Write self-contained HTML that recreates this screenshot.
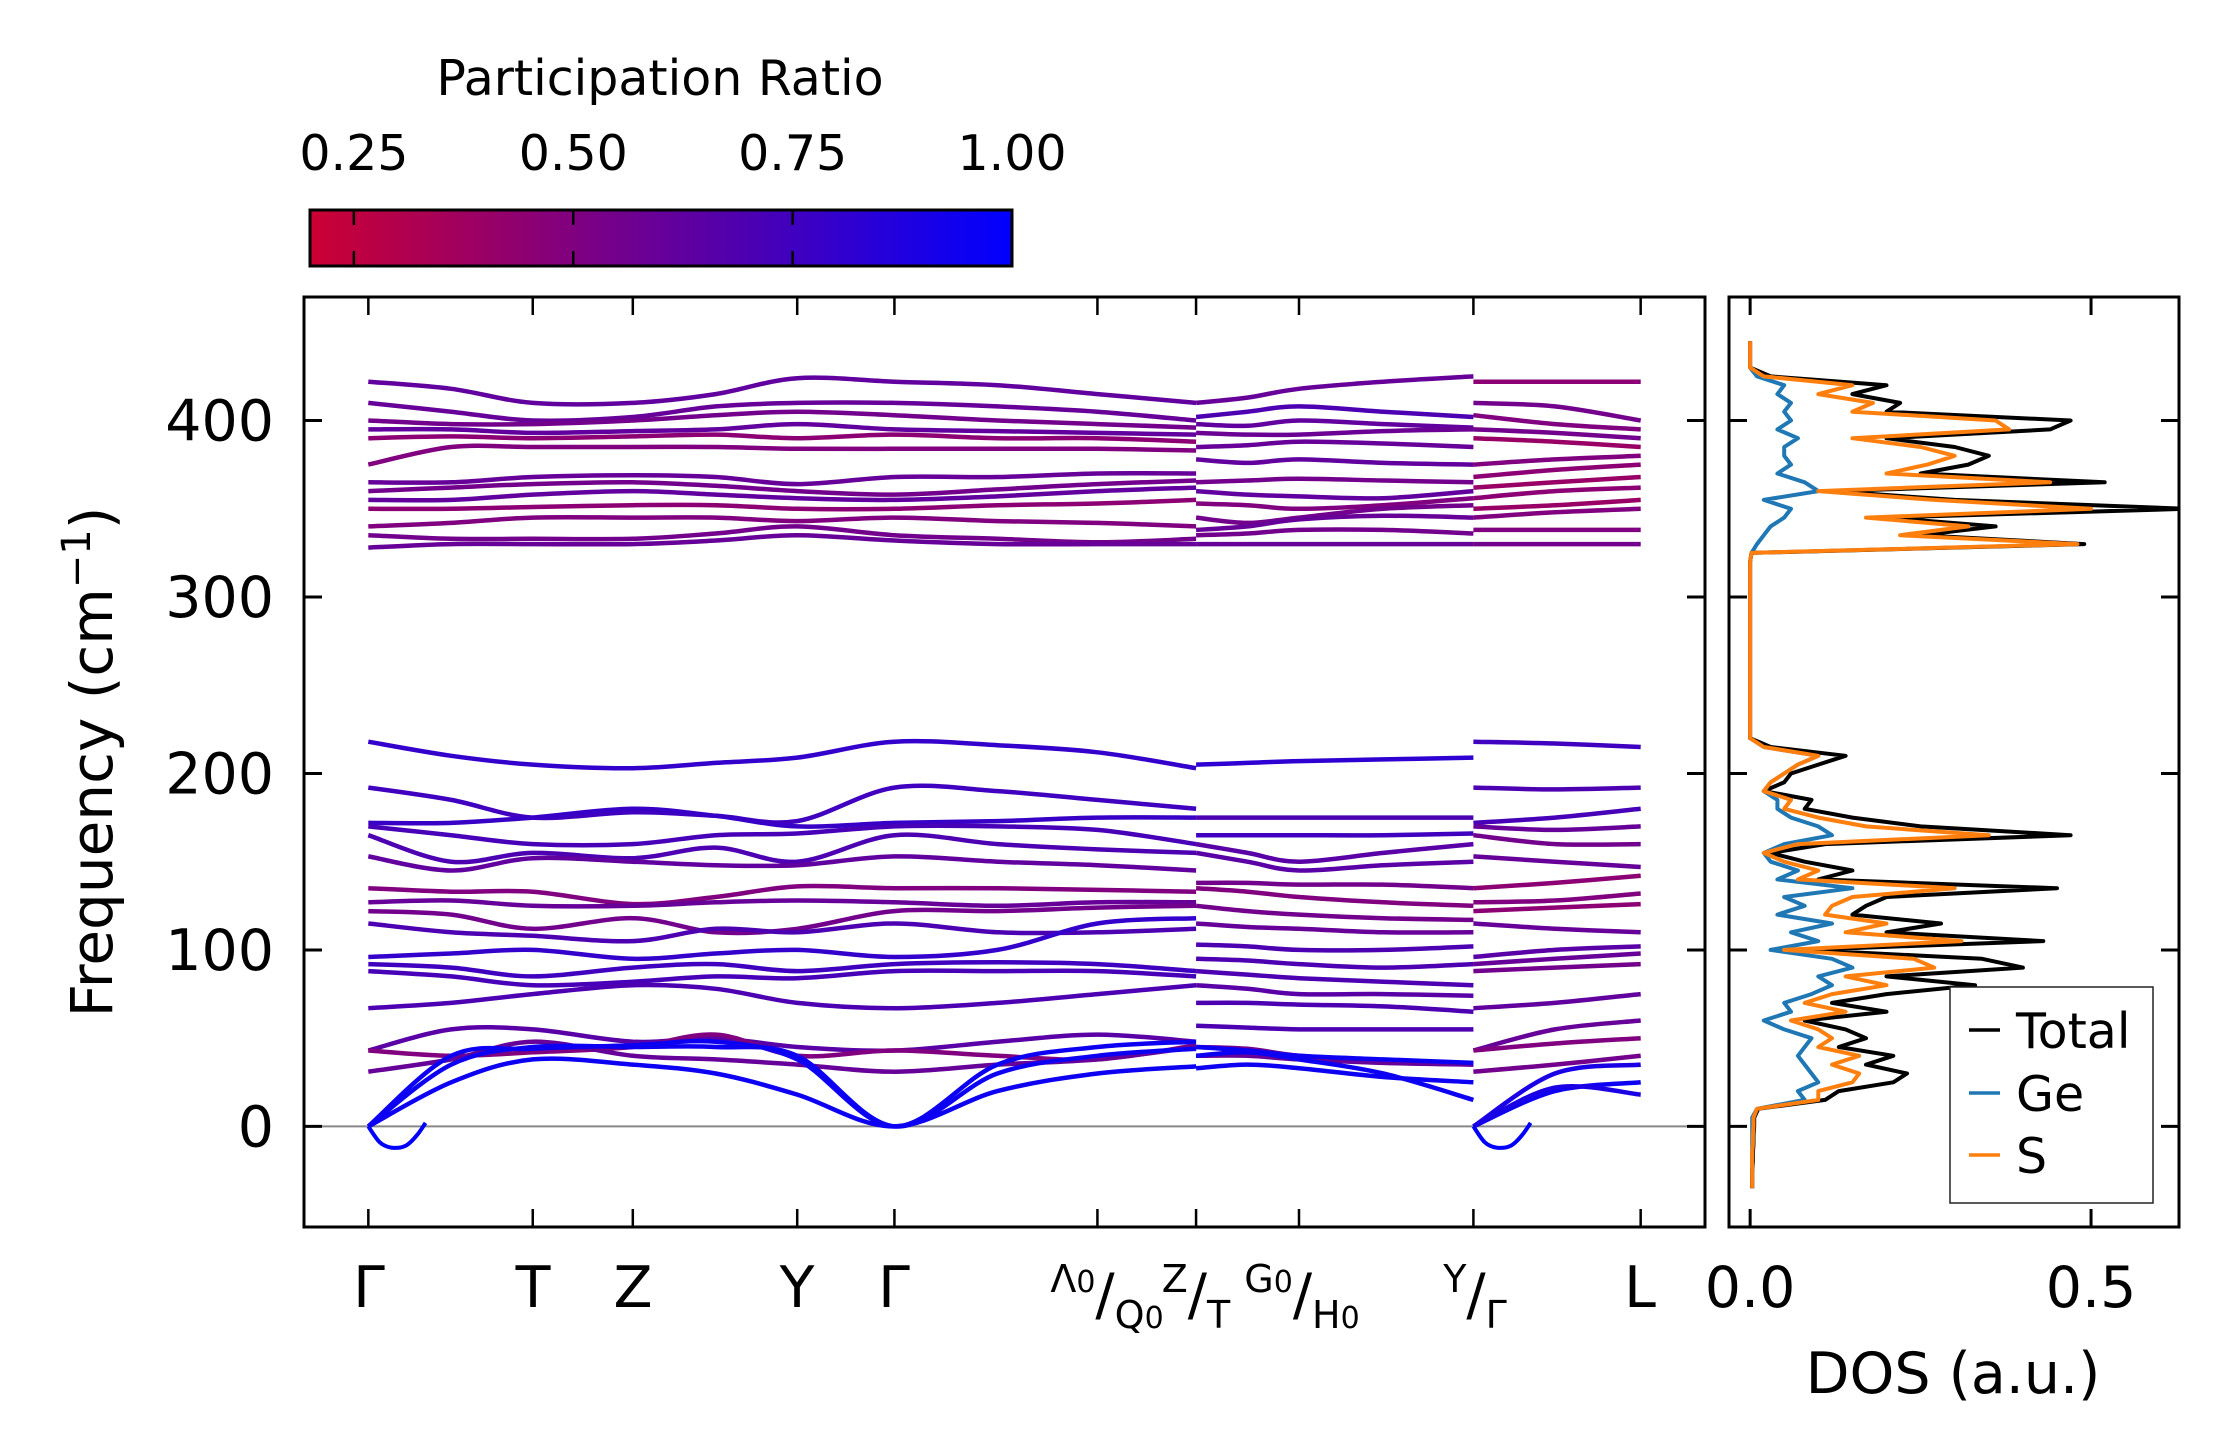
<!DOCTYPE html>
<html><head><meta charset="utf-8"><style>
html,body{margin:0;padding:0;background:#fff;}
svg{display:block;font-family:"DejaVu Sans","Liberation Sans",sans-serif;}
</style></head><body>
<svg id="chart" width="2222" height="1455" viewBox="0 0 2222 1455" xmlns="http://www.w3.org/2000/svg">
<defs>
<linearGradient id="cbgrad" x1="0" x2="1" y1="0" y2="0">
<stop offset="0" stop-color="rgb(204,0,51)"/><stop offset="1" stop-color="rgb(0,0,255)"/>
</linearGradient>
<clipPath id="mainclip"><rect x="304" y="297" width="1401" height="930"/></clipPath>
<clipPath id="dosclip"><rect x="1729" y="297" width="450" height="930"/></clipPath>
</defs>
<g id="colorbar">
<text x="660" y="95" font-size="49" text-anchor="middle">Participation Ratio</text>
<rect x="310" y="210" width="702" height="56" fill="url(#cbgrad)" stroke="#000" stroke-width="3"/>
</g>
<g id="bands" clip-path="url(#mainclip)"></g>
<g id="dos" clip-path="url(#dosclip)"></g>
<g id="axes"></g>
<g id="legend">
<rect x="1950" y="987" width="203" height="216" fill="#fff" stroke="#222" stroke-width="1.5"/>
<line x1="1969" y1="1030" x2="2000" y2="1030" stroke="#000" stroke-width="3.5"/>
<text x="2016" y="1048" font-size="49">Total</text>
<line x1="1969" y1="1093" x2="2000" y2="1093" stroke="#1f77b4" stroke-width="3.5"/>
<text x="2016" y="1111" font-size="49">Ge</text>
<line x1="1969" y1="1155" x2="2000" y2="1155" stroke="#ff7f0e" stroke-width="3.5"/>
<text x="2016" y="1173" font-size="49">S</text>
</g>
</svg>
<script>
// ---- data ----
const kNodes = [0,0.58,1.15,1.85,2.43,3.0,3.68,4.4,5.1,5.79, 5.79,6.15,6.51,7.1,7.73, 7.73,8.3,8.9];
const panelIdx = [[0,10],[10,15],[15,18]];
const kTickPos = [0,1.15,1.85,3.0,3.68,5.1,5.79,6.51,7.73,8.9];
const yTicks = [0,100,200,300,400];
const cbTicks = [0.25,0.5,0.75,1.0];
const cbLabels = ["0.25","0.50","0.75","1.00"];
const bands = [
[422,418,410,410,415,424,422,420,415,410, 410,413,418,422,425, 422,422,422],
[410,405,400,402,408,410,410,408,405,400, 402,405,408,405,402, 410,408,400],
[400,398,398,400,403,405,403,400,398,396, 398,397,400,398,396, 403,398,395],
[395,395,393,394,395,398,395,394,393,392, 393,392,392,394,395, 395,393,390],
[390,391,390,391,392,390,392,390,390,388, 385,386,388,387,385, 390,388,385],
[375,385,385,385,385,384,384,384,384,383, 378,376,378,376,375, 375,378,380],
[365,365,368,369,368,364,368,368,370,370, 365,366,367,366,365, 368,372,375],
[360,362,364,365,363,360,358,361,364,366, 360,358,357,356,360, 362,365,368],
[355,355,358,360,358,356,355,357,360,362, 353,352,350,352,356, 356,360,362],
[350,350,351,352,352,350,350,352,353,355, 345,342,345,350,352, 350,352,355],
[340,342,345,345,345,343,345,343,342,340, 338,340,344,346,345, 345,348,350],
[335,333,333,333,336,340,335,333,331,333, 335,336,338,338,336, 338,338,338],
[328,330,330,330,332,335,332,330,330,330, 330,330,330,330,330, 330,330,330],
[218,210,205,203,206,209,218,216,212,203, 205,206,207,208,209, 218,217,215],
[192,185,175,178,176,173,192,190,185,180, 175,175,175,175,175, 192,191,192],
[172,172,175,180,176,170,172,173,175,175, 165,165,165,165,166, 172,175,180],
[170,165,160,160,165,166,170,170,168,160, 160,155,150,155,160, 170,168,170],
[165,150,155,152,158,150,165,160,157,155, 155,150,145,148,150, 165,160,160],
[153,145,152,150,148,148,153,150,148,145, 138,138,137,137,135, 153,150,147],
[135,133,133,126,130,136,135,135,134,133, 135,133,130,127,125, 135,138,142],
[127,128,125,125,127,128,127,125,127,127, 125,122,120,118,117, 127,128,132],
[122,120,112,118,110,112,122,122,124,125, 115,113,112,110,110, 122,124,126],
[115,110,108,105,112,110,115,110,110,112, 103,102,100,100,102, 115,112,110],
[96,98,100,95,98,100,96,100,115,118, 95,94,92,90,92, 96,100,102],
[92,90,85,90,92,88,92,93,92,88, 88,86,84,82,80, 92,95,98],
[88,85,80,82,85,84,88,88,88,85, 80,78,75,75,74, 88,90,92],
[67,70,75,80,78,70,67,70,75,80, 70,70,69,68,65, 67,70,75],
[43,55,55,48,50,45,43,48,52,48, 57,56,55,55,55, 43,55,60],
[43,40,42,45,52,40,43,40,38,46, 45,44,40,37,35, 43,47,50],
[31,38,48,40,38,35,31,35,38,45, 40,40,38,36,35, 31,35,40],
[0,25,38,35,30,18,0,20,30,34, 40,42,38,30,15, 0,20,25],
[0,35,45,45,45,40,0,30,40,44, 33,35,33,28,25, 0,22,18],
[0,40,44,46,48,38,0,35,45,48, 45,43,40,38,36, 0,30,35]
];
const bandPR = [
[0.62,0.6,0.45],[0.6,0.7,0.55],[0.55,0.62,0.5],[0.62,0.58,0.55],[0.45,0.6,0.4],[0.5,0.62,0.5],[0.6,0.55,0.45],
[0.55,0.62,0.4],[0.62,0.5,0.45],[0.45,0.55,0.4],[0.5,0.6,0.5],[0.55,0.55,0.5],[0.6,0.6,0.55],
[0.8,0.82,0.75],[0.75,0.7,0.7],[0.78,0.75,0.72],[0.72,0.65,0.6],[0.7,0.65,0.55],[0.62,0.55,0.6],
[0.5,0.5,0.45],[0.6,0.55,0.5],[0.55,0.6,0.45],[0.7,0.7,0.6],[0.8,0.7,0.65],[0.75,0.7,0.6],[0.72,0.65,0.55],
[0.7,0.7,0.62],[0.65,0.7,0.6],[0.5,0.55,0.5],[0.6,0.6,0.55],[0.95,0.95,0.95],[0.95,0.95,0.9],[0.95,0.95,0.9]
];
const softK = [0,0.08,0.16,0.26,0.34,0.4];
const softF = [0,-9,-12,-11,-5,2];
const softStarts = [0,7.73];
const dosFreq = [-35,-30,-25,-20,-15,-10,-5,0,5,10,15,20,25,30,35,40,45,50,55,60,65,70,75,80,85,90,95,100,105,110,115,120,125,130,135,140,145,150,155,160,165,170,175,180,185,190,195,200,205,210,215,220,225,230,235,240,245,250,255,260,265,270,275,280,285,290,295,300,305,310,315,320,325,330,335,340,345,350,355,360,365,370,375,380,385,390,395,400,405,410,415,420,425,430,435,440,445];
const dosTotal = [.003,.003,.003,.004,.004,.005,.005,.006,.006,.012,.11,.13,.21,.23,.17,.21,.13,.17,.14,.08,.2,.12,.2,.33,.2,.4,.34,.08,.43,.2,.28,.15,.17,.2,.45,.1,.15,.08,.03,.11,.47,.25,.15,.08,.09,.02,.05,.06,.1,.14,.03,0,0,0,0,0,0,0,0,0,0,0,0,0,0,0,0,0,0,0,0,0,.002,.49,.25,.36,.2,.64,.3,.12,.52,.25,.32,.35,.3,.2,.44,.47,.2,.22,.15,.2,.03,0,0,0,0];
const dosGe = [.003,.003,.003,.003,.003,.003,.003,.003,.003,.01,.08,.07,.1,.09,.08,.07,.08,.09,.05,.02,.06,.05,.09,.12,.1,.15,.12,.03,.1,.06,.12,.04,.08,.05,.15,.04,.07,.03,.02,.05,.12,.1,.06,.04,.04,.02,.03,.05,.07,.1,.02,0,0,0,0,0,0,0,0,0,0,0,0,0,0,0,0,0,0,0,0,0,.002,.01,.02,.03,.05,.06,.02,.1,.08,.04,.06,.05,.05,.07,.04,.06,.05,.06,.04,.05,.01,0,0,0,0];
const dosS = [.003,.003,.003,.003,.003,.004,.004,.005,.005,.01,.1,.1,.15,.16,.12,.16,.1,.12,.1,.06,.14,.08,.12,.2,.14,.27,.24,.05,.31,.14,.2,.11,.12,.15,.3,.07,.1,.05,.02,.07,.35,.17,.1,.05,.06,.02,.03,.05,.07,.1,.02,0,0,0,0,0,0,0,0,0,0,0,0,0,0,0,0,0,0,0,0,0,.002,.48,.22,.32,.17,.5,.27,.1,.44,.2,.26,.3,.25,.15,.38,.36,.15,.18,.1,.15,.02,0,0,0,0];

// ---- scales ----
const NS='http://www.w3.org/2000/svg';
const X0=304,X1=1705,Y0=297,Y1=1227;
const kMin=-0.45,kMax=9.35,fMin=-57,fMax=470;
const dMin=-0.031,dMax=0.629,DX0=1729,DX1=2179;
const xk=k=>X0+(k-kMin)/(kMax-kMin)*(X1-X0);
const yf=f=>Y1-(f-fMin)/(fMax-fMin)*(Y1-Y0);
const xd=d=>DX0+(d-dMin)/(dMax-dMin)*(DX1-DX0);
const cbx=v=>310+(v-0.2)/0.8*702;
function prColor(p){const t=Math.max(0,Math.min(1,(p-0.2)/0.8));return `rgb(${Math.round(204*(1-t))},0,${Math.round(51+204*t)})`;}
function el(tag,attrs,parent){const e=document.createElementNS(NS,tag);for(const a in attrs)e.setAttribute(a,attrs[a]);parent.appendChild(e);return e;}
function smoothPath(pts){
 let d=`M${pts[0][0].toFixed(1)},${pts[0][1].toFixed(1)}`;
 for(let i=0;i<pts.length-1;i++){
  const p0=pts[Math.max(0,i-1)],p1=pts[i],p2=pts[i+1],p3=pts[Math.min(pts.length-1,i+2)];
  const c1=[p1[0]+(p2[0]-p0[0])/6,p1[1]+(p2[1]-p0[1])/6];
  const c2=[p2[0]-(p3[0]-p1[0])/6,p2[1]-(p3[1]-p1[1])/6];
  d+=` C${c1[0].toFixed(1)},${c1[1].toFixed(1)} ${c2[0].toFixed(1)},${c2[1].toFixed(1)} ${p2[0].toFixed(1)},${p2[1].toFixed(1)}`;
 }
 return d;
}
const gB=document.getElementById('bands');
const gD=document.getElementById('dos');
const gA=document.getElementById('axes');
const zl=el('line',{x1:X0,x2:X1,y1:yf(0),y2:yf(0),stroke:'#888','stroke-width':2},gB);


bands.forEach((b,bi)=>{
 panelIdx.forEach(([s,e],pi)=>{
  const pts=[];for(let i=s;i<e;i++)pts.push([xk(kNodes[i]),yf(b[i])]);
  const p=el('path',{d:smoothPath(pts),fill:'none',stroke:prColor(bandPR[bi][pi]),'stroke-width':4.5},gB);
  
  
 });
});
softStarts.forEach(k0=>{
 const pts=softK.map((k,i)=>[xk(k0+k),yf(softF[i])]);
 const p=el('path',{d:smoothPath(pts),fill:'none',stroke:'rgb(0,0,255)','stroke-width':4},gB);
 
 
});
[[dosGe,'#1f77b4','dos-ge'],[dosTotal,'#000','dos-total'],[dosS,'#ff7f0e','dos-s']].forEach(([arr,c,n])=>{
 const pts=arr.map((v,i)=>`${xd(v).toFixed(1)},${yf(dosFreq[i]).toFixed(1)}`).join(' ');
 const p=el('polyline',{points:pts,fill:'none',stroke:c,'stroke-width':4,'stroke-linejoin':'round'},gD);
 
 
});
const f1=el('rect',{x:X0,y:Y0,width:X1-X0,height:Y1-Y0,fill:'none',stroke:'#000','stroke-width':3},gA);


const f2=el('rect',{x:DX0,y:Y0,width:DX1-DX0,height:Y1-Y0,fill:'none',stroke:'#000','stroke-width':3},gA);


yTicks.forEach(v=>{
 const y=yf(v);
 [[X0,X0+18],[X1-18,X1],[DX0,DX0+18],[DX1-18,DX1]].forEach(([a,b])=>{
  const t=el('line',{x1:a,x2:b,y1:y,y2:y,stroke:'#000','stroke-width':3},gA);
  
  
 });
 const l=el('text',{x:274,y:y+20,'font-size':57,'text-anchor':'end'},gA);l.textContent=v;
 
 
});
kTickPos.forEach(k=>{
 const x=xk(k);
 [[Y1-18,Y1],[Y0,Y0+18]].forEach(([a,b])=>{
  const t=el('line',{x1:x,x2:x,y1:a,y2:b,stroke:'#000','stroke-width':2.5},gA);
  
  
 });
});
[0,0.5].forEach((v,i)=>{
 const x=xd(v);
 [[Y1-18,Y1],[Y0,Y0+18]].forEach(([a,b])=>{
  const t=el('line',{x1:x,x2:x,y1:a,y2:b,stroke:'#000','stroke-width':3},gA);
  
  
 });
 const l=el('text',{x:x,y:1307,'font-size':57,'text-anchor':'middle'},gA);l.textContent=v.toFixed(1);
 
 
});
cbTicks.forEach((v,i)=>{
 const x=cbx(v);
 if(v<1){
  [[210,225],[251,266]].forEach(([a,b])=>{
   const t=el('line',{x1:x,x2:x,y1:a,y2:b,stroke:'#000','stroke-width':2.5},gA);
   
   
  });
 }
 const l=el('text',{x:x,y:170,'font-size':49,'text-anchor':'middle'},gA);l.textContent=cbLabels[i];
 
 
});
</script>
<script>
(function(){
const svg=document.getElementById('chart');
const NS='http://www.w3.org/2000/svg';
const html=`
<text transform="translate(112,762) rotate(-90)" font-size="58" text-anchor="middle">Frequency (cm<tspan font-size="40" dy="-22">−1</tspan><tspan dy="22">)</tspan></text>
<text x="1953" y="1393" font-size="57" text-anchor="middle">DOS (a.u.)</text>
<g font-size="57" text-anchor="middle">
<text x="369" y="1307">Γ</text>
<text x="533" y="1307">T</text>
<text x="633" y="1307">Z</text>
<text x="797" y="1307">Y</text>
<text x="894" y="1307">Γ</text>
<text x="1107" y="1292" font-size="38">Λ<tspan font-size="30">0</tspan><tspan font-size="57" dy="22">/</tspan><tspan font-size="38" dy="14">Q</tspan><tspan font-size="30">0</tspan></text>
<text x="1196" y="1292" font-size="38">Z<tspan font-size="57" dy="22">/</tspan><tspan font-size="38" dy="14">T</tspan></text>
<text x="1302" y="1292" font-size="38">G<tspan font-size="30">0</tspan><tspan font-size="57" dy="22">/</tspan><tspan font-size="38" dy="14">H</tspan><tspan font-size="30">0</tspan></text>
<text x="1475" y="1292" font-size="38">Y<tspan font-size="57" dy="22">/</tspan><tspan font-size="38" dy="14">Γ</tspan></text>
<text x="1640" y="1307">L</text>
</g>`;
const tmp=document.createElementNS(NS,'g');
tmp.innerHTML=html;
while(tmp.firstChild)svg.appendChild(tmp.firstChild);
})();
</script>
</body></html>
